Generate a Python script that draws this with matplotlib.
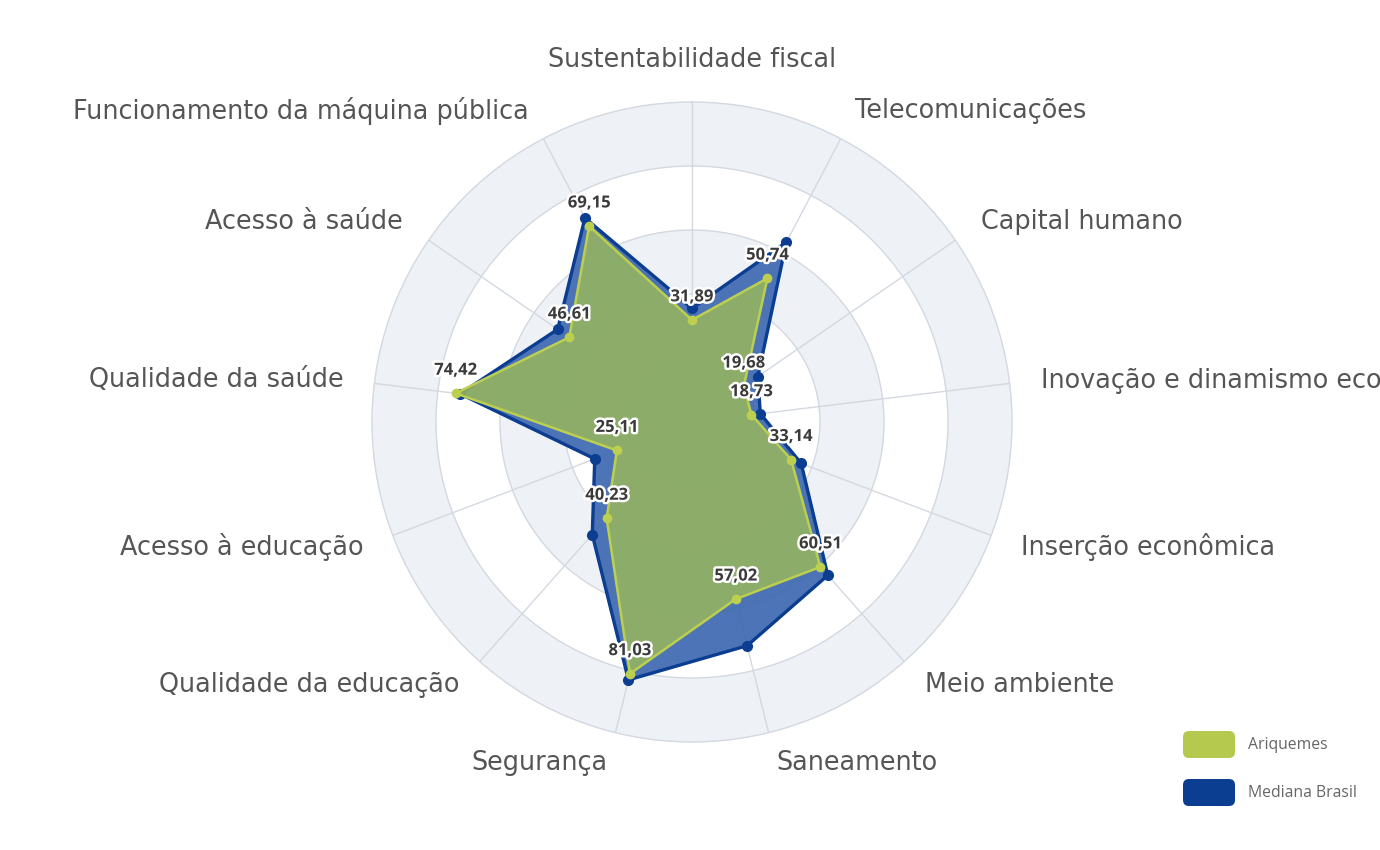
import numpy as np
import matplotlib
matplotlib.use("Agg")
import matplotlib.pyplot as plt
import matplotlib.patheffects as pe
from matplotlib.patches import FancyBboxPatch

# ---------------- data ----------------
categories = [
    "Sustentabilidade fiscal",
    "Telecomunicações",
    "Capital humano",
    "Inovação e dinamismo econômico",
    "Inserção econômica",
    "Meio ambiente",
    "Saneamento",
    "Segurança",
    "Qualidade da educação",
    "Acesso à educação",
    "Qualidade da saúde",
    "Acesso à saúde",
    "Funcionamento da máquina pública",
]
ariquemes = [31.89, 50.74, 19.68, 18.73, 33.14, 60.51, 57.02, 81.03, 40.23, 25.11, 74.42, 46.61, 69.15]
mediana_brasil = [35.5, 63.5, 25.0, 21.5, 36.5, 64.0, 72.0, 83.0, 47.0, 32.5, 73.0, 51.0, 72.0]
ring_levels = [0, 20, 40, 60, 80, 100]
series_names = ["Ariquemes", "Mediana Brasil"]

# ---------------- style ----------------
FONT = ["Open Sans", "DejaVu Sans"]
CAT_FONT = ["DejaVu Sans"]
plt.rcParams["font.family"] = FONT
GREEN_LINE = "#bccf4f"
GREEN_FILL = "#98b65e"
BLUE_LINE = "#0b3d91"
BLUE_FILL = "#426cb2"
GRID = "#d3d8e1"
BAND = "#eef1f6"
TXT = "#555555"

W, H = 1380, 850
fig = plt.figure(figsize=(W / 100, H / 100), dpi=100)
fig.patch.set_facecolor("white")

cx, cy, R = 692, 422, 320
ax = fig.add_axes([(cx - R) / W, 1 - (cy + R) / H, 2 * R / W, 2 * R / H], projection="polar")
ax.set_theta_zero_location("N")
ax.set_theta_direction(-1)
ax.set_ylim(ring_levels[0], ring_levels[-1])

n = len(categories)
theta = np.arange(n) * 2 * np.pi / n
ax.set_xticks(theta)
ax.set_xticklabels([])
ax.set_yticks(ring_levels[1:-1])
ax.set_yticklabels([])
ax.set_axisbelow(True)
ax.grid(True, color=GRID, lw=1.0)
ax.spines["polar"].set_color(GRID)
ax.spines["polar"].set_linewidth(1.0)
ax.set_facecolor("white")

# alternating bands
for i in range(0, len(ring_levels) - 1, 2):
    ax.bar(0, ring_levels[i + 1] - ring_levels[i], width=2 * np.pi, bottom=ring_levels[i],
           color=BAND, linewidth=0, zorder=0.1)

th_c = np.append(theta, theta[0])
med_c = np.append(mediana_brasil, mediana_brasil[0])
ari_c = np.append(ariquemes, ariquemes[0])

ax.fill(th_c, med_c, color=BLUE_FILL, alpha=0.95, lw=0, zorder=2)
ax.plot(th_c, med_c, color=BLUE_LINE, lw=2.4, zorder=3)
ax.plot(theta, mediana_brasil, "o", color=BLUE_LINE, ms=7, zorder=3)

ax.fill(th_c, ari_c, color=GREEN_FILL, alpha=0.86, lw=0, zorder=4)
ax.plot(th_c, ari_c, color=GREEN_LINE, lw=1.8, zorder=5)
ax.plot(theta, ariquemes, "o", color=GREEN_LINE, ms=6, zorder=5)

# value labels
for t, v in zip(theta, ariquemes):
    ax.annotate(f"{v:.2f}".replace(".", ","), xy=(t, v), xytext=(0, 17),
                textcoords="offset points", ha="center", va="center",
                fontsize=12, fontweight="bold", color="#3a3a3a", zorder=7,
                path_effects=[pe.withStroke(linewidth=3.5, foreground="white")])

# category labels
for i, (t, c) in enumerate(zip(theta, categories)):
    s = np.sin(t)
    if abs(s) < 0.01:
        ha, r = "center", 113
    elif s > 0:
        ha, r = "left", 109.8
    else:
        ha, r = "right", 109.8
    ax.text(t, r, c, ha=ha, va="center", fontsize=18.4, color=TXT, clip_on=False,
            family=CAT_FONT)

# legend in pixel coordinates
lax = fig.add_axes([0, 0, 1, 1], facecolor="none")
lax.set_xlim(0, W)
lax.set_ylim(H, 0)
lax.axis("off")
for (name, col, y0) in [(series_names[0], "#b5c94f", 729), (series_names[1], BLUE_LINE, 777)]:
    lax.add_patch(FancyBboxPatch((1183, y0 + 2), 52, 27, boxstyle="round,pad=0,rounding_size=6",
                                 facecolor=col, edgecolor="none"))
    lax.text(1248, y0 + 16, name, ha="left", va="center", fontsize=11.3, color="#666666")

fig.savefig("out.png", dpi=100, facecolor="white")
